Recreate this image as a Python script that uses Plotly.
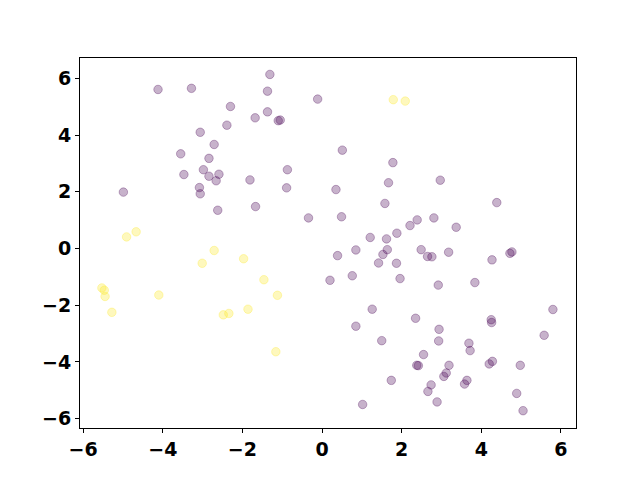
import plotly.graph_objects as go

purple_x = [-1.31, -4.12, -3.28, -1.37, -0.11, -2.30, -1.37, -1.68, -1.10, -1.05,
            -2.39, -3.06, -2.71, -3.55, -2.84, -2.98, -0.87, -3.47, -2.84, -2.59,
            -2.66, -1.81, -3.08, -3.06, -0.89, -4.99, -1.67, -2.62, -0.34,
            0.51, 1.78, 1.67, 2.97, 0.35, 1.58, 4.39, 0.49, 2.81, 2.39, 2.21,
            3.37, 1.21, 1.62, 1.88,
            0.39, 0.85, 1.64, 1.53, 1.42, 1.87, 2.49, 2.65, 2.76, 3.18, 4.27,
            4.72, 4.77, 0.20, 0.76, 1.96, 2.92, 3.84, 1.26, 5.80, 2.35, 4.25,
            4.26, 0.85, 2.94, 5.58, 1.50, 2.93, 3.69, 3.72, 2.55, 2.38, 2.42,
            3.19, 3.12, 3.06, 4.20, 4.28, 4.98, 1.74, 3.64, 3.58, 2.74, 2.66,
            4.89, 2.89, 1.02, 5.05]
purple_y = [6.14, 5.61, 5.65, 5.55, 5.27, 5.01, 4.82, 4.61, 4.51, 4.53,
            4.35, 4.10, 3.67, 3.34, 3.18, 2.78, 2.78, 2.61, 2.55, 2.62,
            2.39, 2.42, 2.15, 1.93, 2.14, 1.99, 1.48, 1.35, 1.08,
            3.47, 3.03, 2.32, 2.41, 2.08, 1.59, 1.62, 1.12, 1.08, 1.01, 0.81,
            0.75, 0.39, 0.34, 0.54,
            -0.25, -0.05, -0.04, -0.21, -0.51, -0.52, -0.04, -0.28, -0.29, -0.13, -0.40,
            -0.17, -0.12, -1.12, -0.96, -1.06, -1.29, -1.20, -2.14, -2.15, -2.46, -2.51,
            -2.61, -2.74, -2.85, -3.06, -3.25, -3.26, -3.34, -3.60, -3.74, -4.12, -4.13,
            -4.12, -4.39, -4.51, -4.07, -3.98, -4.12, -4.65, -4.65, -4.78, -4.81, -5.04,
            -5.11, -5.41, -5.50, -5.72]

yellow_x = [-4.67, -4.91, 1.79, 2.09, -2.71, -3.01, -1.97, -1.46, -1.12, -5.53,
            -5.47, -5.45, -4.10, -5.28, -2.48, -2.34, -1.86, -1.16]
yellow_y = [0.59, 0.41, 5.25, 5.20, -0.07, -0.52, -0.36, -1.10, -1.65, -1.39,
            -1.47, -1.69, -1.64, -2.25, -2.34, -2.29, -2.14, -3.64]

x_ticks = [-6, -4, -2, 0, 2, 4, 6]
y_ticks = [-6, -4, -2, 0, 2, 4, 6]
tick_text_x = ["\u22126", "\u22124", "\u22122", "0", "2", "4", "6"]
tick_text_y = ["\u22126", "\u22124", "\u22122", "0", "2", "4", "6"]

fig = go.Figure()
fig.add_trace(go.Scatter(
    x=purple_x, y=purple_y, mode="markers",
    marker=dict(size=8.5, color="rgba(68,1,84,0.3)",
                line=dict(color="rgba(68,1,84,0.3)", width=1)),
    showlegend=False))
fig.add_trace(go.Scatter(
    x=yellow_x, y=yellow_y, mode="markers",
    marker=dict(size=8.5, color="rgba(253,231,37,0.3)",
                line=dict(color="rgba(253,231,37,0.3)", width=1)),
    showlegend=False))

axis_common = dict(showgrid=False, zeroline=False, showline=True, mirror=True,
                   linecolor="black", linewidth=1, ticks="outside", ticklen=4,
                   tickwidth=1, tickcolor="black",
                   tickfont=dict(family="DejaVu Sans", size=19, color="black",
                                 weight="bold"))
fig.update_xaxes(range=[-6.08, 6.38], tickvals=x_ticks, ticktext=tick_text_x,
                 **axis_common)
fig.update_yaxes(range=[-6.33, 6.72], tickvals=y_ticks, ticktext=tick_text_y,
                 **axis_common)
fig.update_layout(width=640, height=480, plot_bgcolor="white",
                  paper_bgcolor="white",
                  margin=dict(l=72, r=72, t=50, b=60))
fig.write_html("out.html")
